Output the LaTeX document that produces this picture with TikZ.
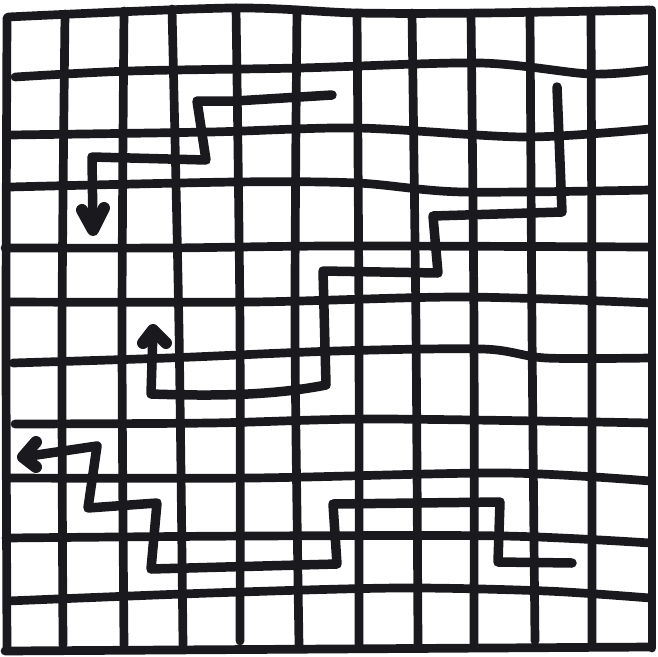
\documentclass[tikz,border=0pt]{standalone}
\definecolor{ink}{RGB}{26,26,30}
\begin{document}
\begin{tikzpicture}[x=1pt,y=-1pt,
  gridline/.style={draw=ink,line width=8.7pt,line cap=round,line join=round},
  route/.style={draw=ink,line width=9.5pt,line cap=round,line join=round},
  headv/.style={draw=ink,line width=12pt,line cap=round,line join=round}]
\useasboundingbox (0,0) rectangle (658,656);
% outer frame
\draw[gridline] plot[smooth] coordinates {(8,17) (231,8) (357,13) (483,13) (650,10)};
\draw[gridline] plot[smooth] coordinates {(7,18) (6,330) (7,650)};
\draw[gridline] plot[smooth] coordinates {(652,10) (652,330) (652,648)};
\draw[gridline] plot[smooth] coordinates {(5,651) (330,649) (651,647)};
% horizontal lines
\draw[gridline] plot[smooth] coordinates {(15,77) (130,71) (300,68) (480,63) (590,74) (650,70)};
\draw[gridline] plot[smooth] coordinates {(10,135) (210,132) (357,128) (525,137) (650,129)};
\draw[gridline] plot[smooth] coordinates {(10,187) (235,182) (357,183) (462,192) (650,190)};
\draw[gridline] plot[smooth] coordinates {(5,248) (168,248) (336,246) (650,247)};
\draw[gridline] plot[smooth] coordinates {(8,302) (252,302) (462,297) (650,303)};
\draw[gridline] plot[smooth] coordinates {(13,363) (168,358) (336,351) (483,349) (546,358) (650,358)};
\draw[gridline] plot[smooth] coordinates {(15,424) (210,423) (378,419) (650,423)};
\draw[gridline] plot[smooth] coordinates {(8,478) (252,478) (504,473) (650,481)};
\draw[gridline] plot[smooth] coordinates {(6,538) (252,536) (504,536) (650,543)};
\draw[gridline] plot[smooth] coordinates {(8,601) (210,593) (399,588) (546,591) (650,598)};
% vertical lines
\draw[gridline] plot[smooth] coordinates {(65,14) (62,330) (63,645)};
\draw[gridline] plot[smooth] coordinates {(124,11) (122,330) (124,645)};
\draw[gridline] plot[smooth] coordinates {(172,9) (179,330) (183,645)};
\draw[gridline] plot[smooth] coordinates {(236,8) (240,330) (240,641)};
\draw[gridline] plot[smooth] coordinates {(297,10) (295,330) (299,645)};
\draw[gridline] plot[smooth] coordinates {(357,13) (359,330) (359,645)};
\draw[gridline] plot[smooth] coordinates {(412,13) (416,330) (418,645)};
\draw[gridline] plot[smooth] coordinates {(471,13) (474,330) (474,645)};
\draw[gridline] plot[smooth] coordinates {(530,12) (532,330) (535,641)};
\draw[gridline] plot[smooth] coordinates {(591,11) (592,330) (592,645)};
% route 1
\coordinate (r1s) at (332,95);
\coordinate (r1e) at (93,230);
\draw[route] (r1s) -- (235,101) -- (197,101) -- (206,160) -- (92,157) -- (r1e);
\draw[headv] (82,210) -- (r1e) -- (104,208);
% route 2
\coordinate (r2s) at (557,87);
\coordinate (r2e) at (153,330);
\draw[route] (r2s) -- (562,212) -- (433,216) -- (438,273) -- (323,271) -- (326,385)
  .. controls (270,396) and (210,396) .. (151,394) -- (r2e);
\draw[headv] (143,343) -- (r2e) -- (166,343);
% route 3
\coordinate (r3s) at (572,563);
\coordinate (r3e) at (23,457);
\draw[route] (r3s) -- (498,562) -- (500,502) -- (333,504) -- (337,564) -- (151,569)
  -- (157,503) -- (88,508) -- (97,446) -- (r3e);
\draw[headv] (36,442) -- (r3e) -- (36,467);
\end{tikzpicture}
\end{document}
